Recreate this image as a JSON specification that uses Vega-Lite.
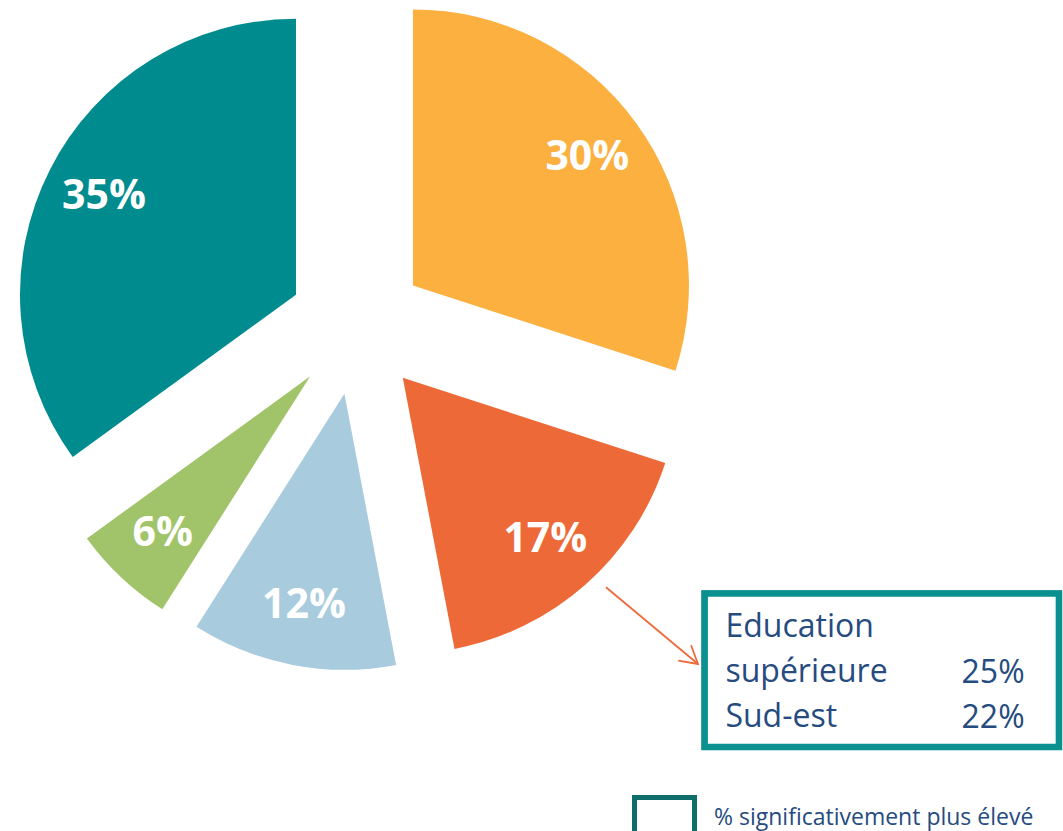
{
  "$schema": "https://vega.github.io/schema/vega-lite/v6.json",
  "width": 1063,
  "height": 831,
  "autosize": {"type": "fit", "contains": "padding"},
  "padding": 0,
  "background": "white",
  "config": {"view": {"stroke": null}},
  "layer": [
    {
      "data": {
        "values": [
          {"segment": "Segment 1", "share": 0.30},
          {"segment": "Segment 2", "share": 0.17},
          {"segment": "Segment 3", "share": 0.12},
          {"segment": "Segment 4", "share": 0.06},
          {"segment": "Segment 5", "share": 0.35}
        ]
      },
      "transform": [
        {"window": [{"op": "sum", "field": "share", "as": "cum"}], "frame": [null, 0]},
        {"calculate": "datum.cum - datum.share", "as": "start"},
        {"calculate": "(datum.cum - datum.share / 2) * 2 * PI", "as": "mid"},
        {"calculate": "0.25 * sin(datum.mid)", "as": "cx"},
        {"calculate": "0.25 * cos(datum.mid)", "as": "cy"},
        {"calculate": "1.033 * sin(datum.mid)", "as": "lx"},
        {"calculate": "1.033 * cos(datum.mid)", "as": "ly"}
      ],
      "layer": [
        {
          "mark": {"type": "arc", "radius": 276},
          "encoding": {
            "theta": {"field": "start", "type": "quantitative", "stack": null, "scale": {"domain": [0, 1], "range": [0, 6.283185307179586]}},
            "theta2": {"field": "cum"},
            "x": {"field": "cx", "type": "quantitative", "scale": {"domain": [-1.2982, 2.5533], "nice": false, "zero": false}, "axis": null},
            "y": {"field": "cy", "type": "quantitative", "scale": {"domain": [-1.8297, 1.1812], "nice": false, "zero": false}, "axis": null},
            "color": {
              "field": "segment",
              "type": "nominal",
              "scale": {
                "domain": ["Segment 1", "Segment 2", "Segment 3", "Segment 4", "Segment 5"],
                "range": ["#FBB040", "#ED6A38", "#A8CBDE", "#A1C46A", "#008C8F"]
              },
              "legend": null
            }
          }
        },
        {
          "mark": {"type": "text", "font": "Open Sans", "fontSize": 41, "fontWeight": "bold", "color": "white", "align": "center", "baseline": "middle"},
          "encoding": {
            "x": {"field": "lx", "type": "quantitative", "scale": {"domain": [-1.2982, 2.5533], "nice": false, "zero": false}, "axis": null},
            "y": {"field": "ly", "type": "quantitative", "scale": {"domain": [-1.8297, 1.1812], "nice": false, "zero": false}, "axis": null},
            "text": {"field": "share", "type": "quantitative", "format": ".0%"}
          }
        }
      ]
    },
    {
      "data": {"values": [{}]},
      "mark": {"type": "rect", "fill": "white", "strokeWidth": 6},
      "encoding": {
        "x": {"datum": 1.2620, "type": "quantitative", "scale": {"domain": [-1.2982, 2.5533], "nice": false, "zero": false}, "axis": null},
        "x2": {"datum": 2.5496},
        "y": {"datum": -0.9692, "type": "quantitative", "scale": {"domain": [-1.8297, 1.1812], "nice": false, "zero": false}, "axis": null},
        "y2": {"datum": -1.5254},
        "stroke": {
          "datum": "% significativement plus élevé",
          "type": "nominal",
          "scale": {"range": ["#0E6E6C"]},
          "legend": {
            "orient": "none",
            "legendX": 632,
            "legendY": 785,
            "title": null,
            "padding": 0,
            "symbolType": "M-1,-0.667H1V0.667H-1Z",
            "symbolSize": 3600,
            "symbolStrokeWidth": 5,
            "symbolFillColor": "white",
            "labelFont": "Open Sans",
            "labelFontSize": 23,
            "labelColor": "#264B7F",
            "labelOffset": 17,
            "labelLimit": 600,
            "encode": {"symbols": {"update": {"fill": {"value": "white"}, "strokeWidth": {"value": 5}}}}
          }
        }
      }
    },
    {
      "data": {"values": [{}]},
      "mark": {"type": "rect", "fill": "white", "stroke": "#0B9090", "strokeWidth": 6.6},
      "encoding": {
        "x": {"datum": 1.2620, "type": "quantitative", "scale": {"domain": [-1.2982, 2.5533], "nice": false, "zero": false}, "axis": null},
        "x2": {"datum": 2.5496},
        "y": {"datum": -0.9692, "type": "quantitative", "scale": {"domain": [-1.8297, 1.1812], "nice": false, "zero": false}, "axis": null},
        "y2": {"datum": -1.5254}
      }
    },
    {
      "data": {"values": [{}]},
      "mark": {"type": "text", "text": ["Education", "supérieure", "Sud-est"], "align": "left", "baseline": "alphabetic", "lineHeight": 45, "font": "Open Sans", "fontSize": 32, "color": "#264B7F"},
      "encoding": {
        "x": {"datum": 1.3377, "type": "quantitative", "scale": {"domain": [-1.2982, 2.5533], "nice": false, "zero": false}, "axis": null},
        "y": {"datum": -1.1257, "type": "quantitative", "scale": {"domain": [-1.8297, 1.1812], "nice": false, "zero": false}, "axis": null}
      }
    },
    {
      "data": {"values": [{}]},
      "mark": {"type": "text", "text": ["25%", "22%"], "align": "right", "baseline": "alphabetic", "lineHeight": 45, "font": "Open Sans", "fontSize": 32, "color": "#264B7F"},
      "encoding": {
        "x": {"datum": 2.4246, "type": "quantitative", "scale": {"domain": [-1.2982, 2.5533], "nice": false, "zero": false}, "axis": null},
        "y": {"datum": -1.2935, "type": "quantitative", "scale": {"domain": [-1.8297, 1.1812], "nice": false, "zero": false}, "axis": null}
      }
    },
    {
      "data": {"values": [{}]},
      "mark": {"type": "rule", "color": "#EE6A3A", "strokeWidth": 1.8},
      "encoding": {
        "x": {"datum": 0.9036, "type": "quantitative", "scale": {"domain": [-1.2982, 2.5533], "nice": false, "zero": false}, "axis": null},
        "y": {"datum": -0.9467, "type": "quantitative", "scale": {"domain": [-1.8297, 1.1812], "nice": false, "zero": false}, "axis": null},
        "x2": {"datum": 1.2380},
        "y2": {"datum": -1.2246}
      }
    },
    {
      "data": {"values": [{}]},
      "mark": {"type": "point", "shape": "M-0.866,-0.5L0,0L-0.866,0.5", "size": 1600, "angle": 39.7, "filled": false, "color": "#EE6A3A", "strokeWidth": 1.8, "opacity": 1},
      "encoding": {
        "x": {"datum": 1.2380, "type": "quantitative", "scale": {"domain": [-1.2982, 2.5533], "nice": false, "zero": false}, "axis": null},
        "y": {"datum": -1.2246, "type": "quantitative", "scale": {"domain": [-1.8297, 1.1812], "nice": false, "zero": false}, "axis": null}
      }
    }
  ]
}
